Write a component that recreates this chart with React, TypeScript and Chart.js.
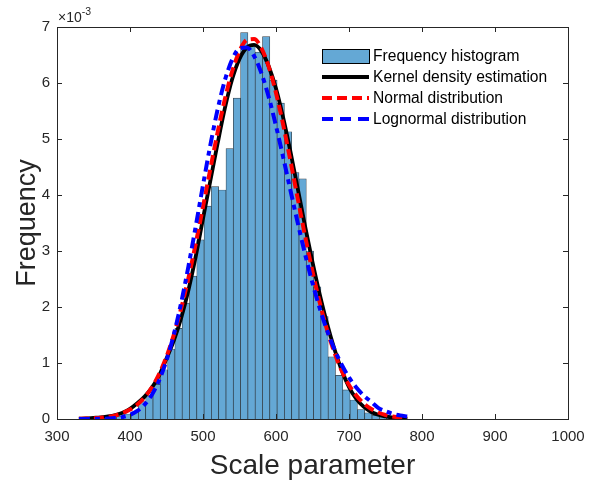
import React, { useEffect, useRef } from "react";
import { Chart, registerables } from "chart.js";
Chart.register(...registerables);

// Histogram bins (scale parameter) and frequency values (x 10^-3)
const binCenters = [376.5, 386.5, 396.5, 406.5, 416.5, 426.5, 436.5, 446.5, 456.5, 466.5,
  476.5, 486.5, 496.5, 506.5, 516.5, 526.5, 536.5, 546.5, 556.5, 566.5,
  576.5, 586.5, 596.5, 606.5, 616.5, 626.5, 636.5, 646.5, 656.5, 666.5,
  676.5, 686.5, 696.5, 706.5, 716.5, 726.5, 736.5, 746.5, 756.5, 766.5];
const histFreq = [0.04, 0.05, 0.09, 0.13, 0.31, 0.42, 0.62, 0.88, 1.25, 1.62,
  2.07, 2.55, 3.20, 3.80, 4.15, 4.09, 4.83, 5.73, 6.90, 6.65,
  6.55, 6.83, 6.05, 5.64, 5.13, 4.40, 4.29, 3.00, 2.36, 1.83,
  1.11, 0.78, 0.52, 0.34, 0.17, 0.11, 0.07, 0.04, 0.02, 0.01];

// Curve sample points
const curveX = [330, 340, 350, 360, 370, 380, 390, 400, 410, 420, 430, 440, 450, 460, 470,
  480, 490, 500, 510, 520, 530, 540, 550, 560, 570, 580, 590, 600, 610, 620, 630,
  640, 650, 660, 670, 680, 690, 700, 710, 720, 730, 740, 750, 760, 770, 780];
const kdeY = [0.005, 0.01, 0.02, 0.03, 0.045, 0.07, 0.11, 0.18, 0.28, 0.40, 0.56, 0.78, 1.08, 1.40, 1.80,
  2.30, 2.90, 3.58, 4.25, 4.92, 5.55, 6.07, 6.43, 6.63, 6.68, 6.57, 6.30, 5.90, 5.37, 4.76, 4.10,
  3.43, 2.80, 2.22, 1.70, 1.25, 0.87, 0.57, 0.36, 0.22, 0.13, 0.075, 0.045, 0.025, 0.012, 0.005];
const normalY = [0.004, 0.007, 0.013, 0.023, 0.039, 0.065, 0.106, 0.168, 0.258, 0.388, 0.566, 0.805, 1.115, 1.502, 1.971,
  2.516, 3.129, 3.787, 4.461, 5.118, 5.713, 6.210, 6.570, 6.767, 6.785, 6.623, 6.293, 5.822, 5.243, 4.596, 3.921,
  3.258, 2.635, 2.075, 1.590, 1.186, 0.861, 0.609, 0.419, 0.281, 0.183, 0.116, 0.072, 0.043, 0.025, 0.014];
const lognormalY = [0.0001, 0.0003, 0.001, 0.003, 0.007, 0.017, 0.037, 0.075, 0.144, 0.257, 0.434, 0.692, 1.047, 1.507, 2.071,
  2.723, 3.438, 4.175, 4.886, 5.526, 6.049, 6.420, 6.618, 6.636, 6.482, 6.177, 5.750, 5.233, 4.663, 4.072, 3.489,
  2.935, 2.427, 1.973, 1.580, 1.246, 0.969, 0.743, 0.562, 0.421, 0.311, 0.20, 0.14, 0.095, 0.065, 0.045];

const xTicksMin = 300, xTicksMax = 1000, xStep = 100;
const yTicksMin = 0, yTicksMax = 7, yStep = 1;

const legendLabels = ["Frequency histogram", "Kernel density estimation", "Normal distribution", "Lognormal distribution"];

const FONT = 'Arial, "Liberation Sans", Helvetica, sans-serif';
const BAR_COLOR = "rgb(100,168,213)";
const BAR_EDGE = "rgba(20,30,40,0.85)";
const RED_DASH = [10, 5];
const BLUE_DASH = [11, 5, 5, 5];

const decorPlugin = {
  id: "decor",
  afterDraw(chart: any) {
    const { ctx, chartArea: a, scales } = chart;
    const xs = scales.x, ys = scales.y;
    ctx.save();
    ctx.strokeStyle = "#262626";
    ctx.lineWidth = 1;
    ctx.setLineDash([]);
    ctx.beginPath();
    xs.ticks.forEach((t: any) => {
      const px = Math.round(xs.getPixelForValue(t.value)) + 0.5;
      ctx.moveTo(px, a.bottom); ctx.lineTo(px, a.bottom - 5);
      ctx.moveTo(px, a.top); ctx.lineTo(px, a.top + 5);
    });
    ys.ticks.forEach((t: any) => {
      const py = Math.round(ys.getPixelForValue(t.value)) + 0.5;
      ctx.moveTo(a.left, py); ctx.lineTo(a.left + 5, py);
      ctx.moveTo(a.right, py); ctx.lineTo(a.right - 5, py);
    });
    ctx.stroke();
    ctx.strokeRect(Math.round(a.left) + 0.5, Math.round(a.top) + 0.5, Math.round(a.right - a.left), Math.round(a.bottom - a.top));

    // exponent label
    ctx.fillStyle = "#262626";
    ctx.textBaseline = "alphabetic";
    ctx.textAlign = "left";
    ctx.font = `14px ${FONT}`;
    ctx.fillText("\u00d710", a.left + 1, a.top - 5);
    const w = ctx.measureText("\u00d710").width;
    ctx.font = `10.5px ${FONT}`;
    ctx.fillText("-3", a.left + 1 + w, a.top - 12);

    // legend
    const x0 = 322, x1 = 369, tx = 373;
    const rows = [56, 77, 98, 119];
    ctx.fillStyle = BAR_COLOR;
    ctx.fillRect(x0, rows[0] - 7, x1 - x0, 14);
    ctx.strokeStyle = "#000";
    ctx.lineWidth = 1;
    ctx.strokeRect(x0 + 0.5, rows[0] - 7 + 0.5, x1 - x0, 14);
    const line = (y: number, color: string, dash: number[]) => {
      ctx.beginPath();
      ctx.strokeStyle = color;
      ctx.lineWidth = 3.8;
      ctx.setLineDash(dash);
      ctx.moveTo(x0, y); ctx.lineTo(x1, y);
      ctx.stroke();
    };
    line(rows[1], "#000", []);
    line(rows[2], "#ff0000", RED_DASH);
    line(rows[3], "#0000ff", [11, 7]);
    ctx.setLineDash([]);
    ctx.fillStyle = "#000";
    ctx.font = `15.6px ${FONT}`;
    ctx.textBaseline = "middle";
    legendLabels.forEach((l, i) => ctx.fillText(l, tx, rows[i] + 1));
    ctx.restore();
  },
};

export default function App() {
  const ref = useRef<HTMLCanvasElement>(null);
  useEffect(() => {
    document.body.style.margin = "0";
    const lineData = (ys: number[]) => curveX.map((x, i) => ({ x, y: ys[i] }));
    const chart = new Chart(ref.current as HTMLCanvasElement, {
      type: "bar",
      data: {
        datasets: [
          {
            type: "line", label: legendLabels[3], data: lineData(lognormalY) as any,
            borderColor: "#0000ff", borderWidth: 4, borderDash: BLUE_DASH, pointRadius: 0,
            cubicInterpolationMode: "monotone", fill: false, order: 0,
          },
          {
            type: "line", label: legendLabels[2], data: lineData(normalY) as any,
            borderColor: "#ff0000", borderWidth: 4, borderDash: RED_DASH, pointRadius: 0,
            cubicInterpolationMode: "monotone", fill: false, order: 1,
          },
          {
            type: "line", label: legendLabels[1], data: lineData(kdeY) as any,
            borderColor: "#000000", borderWidth: 3.8, pointRadius: 0,
            cubicInterpolationMode: "monotone", fill: false, order: 2,
          },
          {
            type: "bar", label: legendLabels[0], data: binCenters.map((x, i) => ({ x, y: histFreq[i] })) as any,
            backgroundColor: BAR_COLOR, borderColor: BAR_EDGE, borderWidth: 0.7,
            barPercentage: 1, categoryPercentage: 1, grouped: false, order: 3,
          } as any,
        ],
      },
      options: {
        animation: false,
        responsive: false,
        layout: { padding: { top: 27, right: 30, left: 0, bottom: 0 } },
        plugins: { legend: { display: false }, tooltip: { enabled: false } },
        scales: {
          x: {
            type: "linear", min: xTicksMin, max: xTicksMax, offset: false,
            grid: { display: false, drawTicks: false },
            border: { display: false },
            ticks: {
              stepSize: xStep, color: "#262626", font: { size: 15, family: FONT }, padding: 9,
              autoSkip: false, maxRotation: 0, callback: (v: any) => String(v),
            },
            title: { display: true, text: "Scale parameter", color: "#262626", font: { size: 28, family: FONT }, padding: { top: 0, bottom: 3 } },
            afterFit: (s: any) => { s.height = 67; },
          },
          y: {
            type: "linear", min: yTicksMin, max: yTicksMax,
            grid: { display: false, drawTicks: false },
            border: { display: false },
            ticks: { stepSize: yStep, color: "#262626", font: { size: 15, family: FONT }, padding: 7, callback: (v: any) => String(v) },
            title: { display: true, text: "Frequency", color: "#262626", font: { size: 27, family: FONT }, padding: { top: 11, bottom: 0 } },
            afterFit: (s: any) => { s.width = 57; },
          },
        },
      },
      plugins: [decorPlugin],
    });
    return () => chart.destroy();
  }, []);
  return (
    <div style={{ width: 598, height: 486 }}>
      <canvas ref={ref} width={598} height={486} style={{ display: "block" }} />
    </div>
  );
}
